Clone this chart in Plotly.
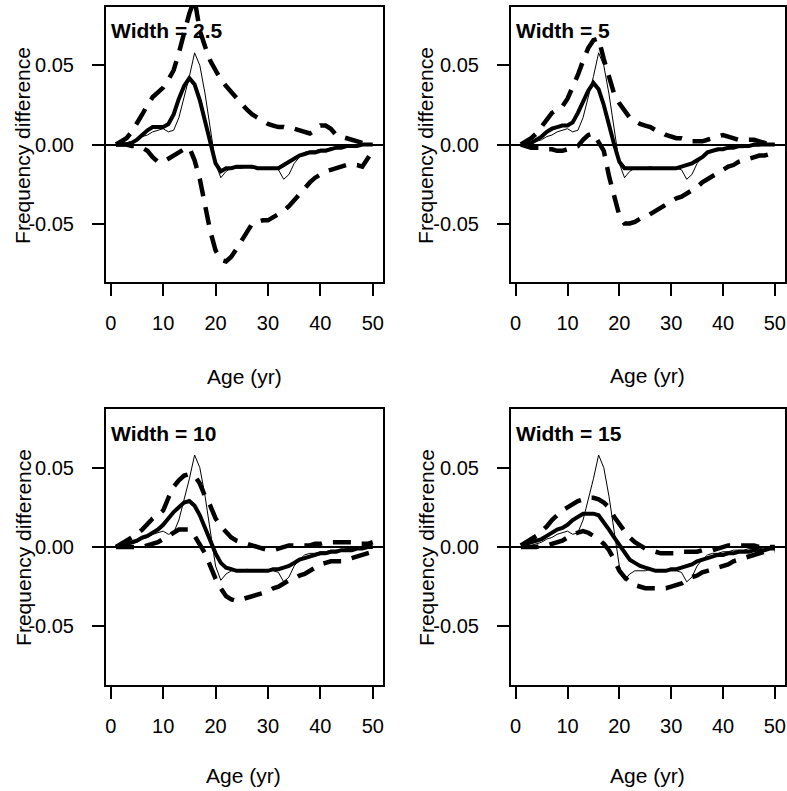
import plotly.graph_objects as go

# ---------------- data ----------------
ages = list(range(1, 51))

# raw frequency difference (thin line, same in every panel)
raw_diff = [0.000, 0.000, 0.001, 0.002, 0.003, 0.005, 0.006, 0.008, 0.009, 0.010,
            0.008, 0.009, 0.017, 0.030, 0.043, 0.058, 0.050, 0.032, 0.010, -0.012,
            -0.021, -0.017, -0.015, -0.015, -0.015, -0.014, -0.015, -0.015, -0.015, -0.015,
            -0.015, -0.016, -0.022, -0.019, -0.012, -0.008, -0.005, -0.004, -0.004, -0.003,
            -0.003, -0.002, -0.002, -0.002, -0.001, -0.001, -0.001, 0.000, 0.000, 0.000]

# Width = 2.5
smooth_w2_5 = [0.000, 0.000, 0.000, 0.001, 0.003, 0.006, 0.009, 0.011, 0.011, 0.011,
               0.013, 0.019, 0.029, 0.037, 0.042, 0.038, 0.028, 0.014, 0.000, -0.012,
               -0.017, -0.015, -0.015, -0.014, -0.014, -0.014, -0.014, -0.015, -0.015, -0.015,
               -0.015, -0.015, -0.013, -0.011, -0.009, -0.007, -0.006, -0.005, -0.005, -0.004,
               -0.004, -0.003, -0.002, -0.002, -0.001, -0.001, -0.001, 0.000, 0.000, 0.000]
upper_w2_5 = [0.000, 0.002, 0.004, 0.008, 0.013, 0.019, 0.025, 0.030, 0.033, 0.036,
              0.041, 0.047, 0.058, 0.071, 0.083, 0.092, 0.072, 0.062, 0.053, 0.047,
              0.041, 0.037, 0.033, 0.030, 0.026, 0.022, 0.019, 0.017, 0.015, 0.013,
              0.012, 0.011, 0.011, 0.010, 0.010, 0.009, 0.008, 0.007, 0.009, 0.012,
              0.012, 0.010, 0.006, 0.005, 0.004, 0.003, 0.002, 0.001, 0.000, 0.000]
lower_w2_5 = [0.000, 0.000, 0.000, -0.001, -0.001, -0.002, -0.004, -0.008, -0.011, -0.011,
              -0.009, -0.007, -0.005, -0.003, -0.002, -0.010, -0.022, -0.038, -0.055, -0.067,
              -0.073, -0.074, -0.071, -0.066, -0.061, -0.055, -0.050, -0.049, -0.048, -0.048,
              -0.046, -0.044, -0.042, -0.039, -0.035, -0.031, -0.028, -0.024, -0.021, -0.019,
              -0.017, -0.016, -0.015, -0.014, -0.013, -0.013, -0.013, -0.014, -0.009, -0.004]

# Width = 5
smooth_w5 = [0.000, 0.000, 0.001, 0.003, 0.005, 0.008, 0.010, 0.011, 0.012, 0.012,
             0.014, 0.020, 0.027, 0.034, 0.039, 0.035, 0.025, 0.012, 0.000, -0.011,
             -0.015, -0.015, -0.015, -0.015, -0.015, -0.015, -0.015, -0.015, -0.015, -0.015,
             -0.015, -0.014, -0.013, -0.012, -0.010, -0.008, -0.005, -0.004, -0.003, -0.003,
             -0.002, -0.002, -0.001, -0.001, -0.001, 0.000, 0.000, 0.000, 0.000, 0.000]
upper_w5 = [0.000, 0.002, 0.004, 0.007, 0.011, 0.016, 0.020, 0.022, 0.024, 0.029,
            0.036, 0.044, 0.053, 0.061, 0.066, 0.067, 0.054, 0.043, 0.032, 0.026,
            0.021, 0.017, 0.015, 0.013, 0.012, 0.011, 0.009, 0.008, 0.006, 0.005,
            0.004, 0.004, 0.003, 0.002, 0.002, 0.002, 0.003, 0.004, 0.005, 0.006,
            0.005, 0.004, 0.003, 0.003, 0.003, 0.003, 0.002, 0.001, 0.000, 0.000]
lower_w5 = [0.000, -0.001, -0.002, -0.002, -0.002, -0.003, -0.003, -0.004, -0.004, -0.003,
            -0.002, -0.001, 0.003, 0.006, 0.007, 0.002, -0.004, -0.020, -0.033, -0.045,
            -0.050, -0.050, -0.049, -0.047, -0.046, -0.044, -0.042, -0.040, -0.038, -0.036,
            -0.034, -0.033, -0.031, -0.029, -0.027, -0.024, -0.022, -0.020, -0.018, -0.016,
            -0.014, -0.013, -0.011, -0.010, -0.009, -0.008, -0.007, -0.007, -0.006, -0.005]

# Width = 10
smooth_w10 = [0.000, 0.001, 0.002, 0.003, 0.004, 0.006, 0.007, 0.009, 0.011, 0.014,
              0.018, 0.022, 0.025, 0.028, 0.029, 0.026, 0.020, 0.012, 0.003, -0.004,
              -0.010, -0.013, -0.014, -0.015, -0.015, -0.015, -0.015, -0.015, -0.015, -0.015,
              -0.014, -0.014, -0.013, -0.012, -0.010, -0.008, -0.007, -0.006, -0.005, -0.004,
              -0.004, -0.003, -0.003, -0.002, -0.002, -0.002, -0.001, -0.001, 0.000, 0.000]
upper_w10 = [0.000, 0.002, 0.004, 0.006, 0.008, 0.011, 0.015, 0.018, 0.020, 0.023,
             0.031, 0.038, 0.042, 0.045, 0.046, 0.045, 0.040, 0.032, 0.026, 0.018,
             0.013, 0.009, 0.006, 0.004, 0.003, 0.002, 0.001, 0.000, -0.001, -0.002,
             -0.002, -0.001, 0.000, 0.001, 0.001, 0.001, 0.001, 0.001, 0.002, 0.002,
             0.003, 0.003, 0.003, 0.003, 0.003, 0.003, 0.002, 0.002, 0.002, 0.003]
lower_w10 = [0.000, 0.000, 0.000, 0.000, 0.000, 0.000, 0.001, 0.002, 0.003, 0.005,
             0.007, 0.009, 0.011, 0.011, 0.011, 0.007, 0.001, -0.004, -0.012, -0.020,
             -0.026, -0.031, -0.033, -0.034, -0.033, -0.032, -0.031, -0.030, -0.029, -0.028,
             -0.026, -0.025, -0.023, -0.021, -0.020, -0.018, -0.017, -0.015, -0.013, -0.011,
             -0.010, -0.009, -0.009, -0.009, -0.008, -0.007, -0.006, -0.005, -0.004, -0.003]

# Width = 15
smooth_w15 = [0.001, 0.002, 0.003, 0.004, 0.005, 0.007, 0.009, 0.011, 0.012, 0.014,
              0.017, 0.019, 0.021, 0.021, 0.021, 0.020, 0.016, 0.011, 0.006, 0.001,
              -0.004, -0.008, -0.010, -0.012, -0.013, -0.014, -0.015, -0.015, -0.015, -0.014,
              -0.014, -0.013, -0.012, -0.011, -0.009, -0.008, -0.007, -0.006, -0.005, -0.005,
              -0.004, -0.004, -0.003, -0.003, -0.003, -0.002, -0.002, -0.002, -0.001, -0.001]
upper_w15 = [0.001, 0.003, 0.005, 0.007, 0.010, 0.013, 0.017, 0.020, 0.023, 0.025,
             0.027, 0.029, 0.030, 0.031, 0.031, 0.030, 0.028, 0.025, 0.019, 0.014,
             0.010, 0.006, 0.003, 0.001, -0.001, -0.002, -0.003, -0.004, -0.004, -0.004,
             -0.004, -0.003, -0.003, -0.003, -0.003, -0.002, -0.002, -0.002, -0.001, 0.000,
             0.001, 0.001, 0.001, 0.001, 0.001, 0.001, 0.000, 0.000, 0.000, 0.000]
lower_w15 = [0.000, 0.000, 0.000, 0.000, 0.001, 0.001, 0.002, 0.003, 0.004, 0.006,
             0.008, 0.009, 0.010, 0.009, 0.007, 0.005, 0.002, -0.002, -0.008, -0.015,
             -0.019, -0.022, -0.024, -0.025, -0.026, -0.026, -0.026, -0.026, -0.026, -0.025,
             -0.024, -0.023, -0.021, -0.019, -0.018, -0.016, -0.015, -0.014, -0.013, -0.012,
             -0.011, -0.009, -0.008, -0.007, -0.006, -0.005, -0.004, -0.003, -0.002, -0.002]

panel_titles = ["Width = 2.5", "Width = 5", "Width = 10", "Width = 15"]
x_tick_vals = [0, 10, 20, 30, 40, 50]
y_tick_vals = [-0.05, 0.0, 0.05]
y_tick_text = ["-0.05", "0.00", "0.05"]
x_title = "Age (yr)"
y_title = "Frequency difference"

smooths = [smooth_w2_5, smooth_w5, smooth_w10, smooth_w15]
uppers = [upper_w2_5, upper_w5, upper_w10, upper_w15]
lowers = [lower_w2_5, lower_w5, lower_w10, lower_w15]

# ---------------- layout geometry ----------------
W, H = 787, 791
# panel boxes in pixels: (left, right, top, bottom)
boxes = [(105, 383, 7, 282), (511, 786, 7, 282),
         (105, 383, 409, 685), (511, 786, 409, 685)]
xtitle_pos = [(244, 376), (648, 375), (243, 775), (648, 775)]
ytitle_pos = [(22, 145), (426, 145), (22, 547), (426, 547)]

FONT = "Liberation Sans, Arial, sans-serif"

fig = go.Figure()
layout = dict(width=W, height=H, margin=dict(l=0, r=0, t=0, b=0),
              paper_bgcolor="white", plot_bgcolor="white", showlegend=False,
              font=dict(family=FONT, color="black"))
annotations = []

for i in range(4):
    n = "" if i == 0 else str(i + 1)
    xa, ya = "x" + n, "y" + n
    l, r, t, b = boxes[i]
    layout["xaxis" + n] = dict(
        domain=[l / W, r / W], anchor=ya, range=[-0.96, 51.96],
        tickmode="array", tickvals=x_tick_vals, ticks="outside", ticklen=12,
        tickwidth=1.5, tickcolor="black", showline=True, linecolor="black",
        linewidth=1.5, mirror=True, showgrid=False, zeroline=False,
        tickfont=dict(size=20, family=FONT), ticklabelstandoff=10)
    layout["yaxis" + n] = dict(
        domain=[1 - b / H, 1 - t / H], anchor=xa, range=[-0.087, 0.087],
        tickmode="array", tickvals=y_tick_vals, ticktext=y_tick_text,
        ticks="outside", ticklen=12, tickwidth=1.5, tickcolor="black",
        showline=True, linecolor="black", linewidth=1.5, mirror=True,
        showgrid=False, zeroline=True, zerolinecolor="black", zerolinewidth=1.5,
        tickfont=dict(size=20, family=FONT), ticklabelstandoff=14)

    fig.add_trace(go.Scatter(x=ages, y=raw_diff, mode="lines", xaxis=xa, yaxis=ya,
                             line=dict(color="black", width=1)))
    fig.add_trace(go.Scatter(x=ages, y=uppers[i], mode="lines", xaxis=xa, yaxis=ya,
                             line=dict(color="black", width=4.5, dash="18px,11px")))
    fig.add_trace(go.Scatter(x=ages, y=lowers[i], mode="lines", xaxis=xa, yaxis=ya,
                             line=dict(color="black", width=4.5, dash="18px,11px")))
    fig.add_trace(go.Scatter(x=ages, y=smooths[i], mode="lines", xaxis=xa, yaxis=ya,
                             line=dict(color="black", width=4)))

    annotations.append(dict(text="<b>" + panel_titles[i] + "</b>", xref="paper", yref="paper",
                            x=(l + 3) / W, y=1 - (t + 24) / H, xanchor="left", yanchor="middle",
                            showarrow=False, font=dict(size=21, family=FONT, color="black")))
    xt = xtitle_pos[i]
    annotations.append(dict(text=x_title, xref="paper", yref="paper",
                            x=xt[0] / W, y=1 - xt[1] / H, xanchor="center", yanchor="middle",
                            showarrow=False, font=dict(size=21, family=FONT, color="black")))
    yt = ytitle_pos[i]
    annotations.append(dict(text=y_title, xref="paper", yref="paper", textangle=-90,
                            x=yt[0] / W, y=1 - yt[1] / H, xanchor="center", yanchor="middle",
                            showarrow=False, font=dict(size=21, family=FONT, color="black")))

layout["annotations"] = annotations
fig.update_layout(**layout)
fig.write_html("out.html", config={"displayModeBar": False},
               post_script="document.body.style.margin='0px';document.body.style.padding='0px';"
                           "document.body.style.overflow='hidden';")
